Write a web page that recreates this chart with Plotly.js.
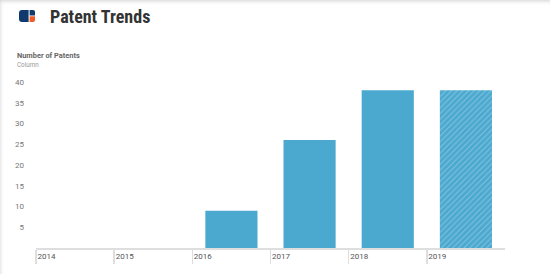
<!DOCTYPE html>
<html>
<head>
<meta charset="utf-8">
<script src="https://cdn.plot.ly/plotly-3.0.1.min.js"></script>
<style>
  html, body { margin: 0; padding: 0; background: #fff; }
  #wrap { position: relative; width: 550px; height: 274px; background: #fff;
          box-shadow: inset 2px 3px 4px -2px rgba(0,0,0,0.18); overflow: hidden; }
  #chart { position: absolute; left: 0; top: 0; width: 550px; height: 274px; }
  #logo { position: absolute; left: 19px; top: 10px; width: 16px; height: 12px; z-index: 5; }
</style>
</head>
<body>
<div id="wrap">
  <div id="chart"></div>
  <svg id="logo" viewBox="0 0 16 12" xmlns="http://www.w3.org/2000/svg">
    <path d="M3 0 H9.6 V12 H3 A3 3 0 0 1 0 9 V3 A3 3 0 0 1 3 0 Z" fill="#0f3a6b"/>
    <path d="M10.6 0 H14 A2 2 0 0 1 16 2 V5.4 H10.6 Z" fill="#0f3a6b"/>
    <path d="M10.6 6.3 H16 V10 A2 2 0 0 1 14 12 H10.6 Z" fill="#f05a28"/>
  </svg>
</div>
<script>
const years = [2014, 2015, 2016, 2017, 2018, 2019];
const patents = [0, 0, 9, 26, 38, 38];
const projected = [false, false, false, false, false, true];
const yTicks = [5, 10, 15, 20, 25, 30, 35, 40];
const titleText = 'Patent Trends';
const yTitle = 'Number of Patents';
const ySubtitle = 'Column';

const barColor = '#4ba9cf';

const trace = {
  type: 'bar',
  x: years,
  y: patents,
  width: 0.667,
  marker: {
    color: barColor,
    line: { width: 0 },
    pattern: {
      shape: projected.map(p => p ? '/' : ''),
      fillmode: 'overlay',
      fgcolor: 'rgba(255,255,255,0.6)',
      size: 4,
      solidity: 0.25
    }
  },
  hoverinfo: 'skip'
};

const layout = {
  width: 550,
  height: 274,
  margin: { l: 36, r: 45, t: 82, b: 26, pad: 0 },
  paper_bgcolor: 'rgba(0,0,0,0)',
  plot_bgcolor: 'rgba(0,0,0,0)',
  showlegend: false,
  font: { family: 'Roboto, sans-serif', color: '#555', size: 8 },
  title: {
    text: titleText,
    font: { family: '"Liberation Sans Narrow", "Roboto Condensed", Roboto, sans-serif', size: 18, color: '#333', weight: 700 },
    x: 50 / 550, xref: 'container', xanchor: 'left',
    y: 1 - 16.5 / 274, yref: 'container', yanchor: 'middle'
  },
  xaxis: {
    type: 'linear',
    range: [years[0] - 0.5, years[years.length - 1] + 0.5],
    tickmode: 'array',
    tickvals: years.map(y => y - 0.5),
    ticktext: years.map(String),
    ticks: 'outside',
    ticklen: 14,
    tickwidth: 1.5,
    tickcolor: '#dedede',
    ticklabelposition: 'outside right',
    ticklabelstandoff: 3.5,
    tickfont: { family: 'Roboto, sans-serif', size: 8, color: '#555' },
    showline: true,
    linecolor: '#dedede',
    linewidth: 1.5,
    showgrid: false,
    zeroline: false,
    fixedrange: true
  },
  yaxis: {
    range: [0, 40],
    tickmode: 'array',
    tickvals: yTicks,
    ticktext: yTicks.map(String),
    ticks: '',
    ticklabelstandoff: 11,
    ticklabelshift: 5.5,
    tickfont: { family: 'Roboto, sans-serif', size: 8, color: '#777' },
    showline: false,
    showgrid: false,
    zeroline: false,
    fixedrange: true
  },
  annotations: [
    {
      text: '<b>' + yTitle + '</b>',
      xref: 'paper', yref: 'paper', x: 0, y: 1,
      xshift: -21, yshift: 27, xanchor: 'left', yanchor: 'middle',
      showarrow: false,
      font: { family: 'Roboto, sans-serif', size: 7.4, color: '#666' }
    },
    {
      text: ySubtitle,
      xref: 'paper', yref: 'paper', x: 0, y: 1,
      xshift: -21, yshift: 17.5, xanchor: 'left', yanchor: 'middle',
      showarrow: false,
      font: { family: 'Roboto, sans-serif', size: 6.3, color: '#999' }
    }
  ]
};

Plotly.newPlot('chart', [trace], layout, { staticPlot: true, displayModeBar: false });
</script>
</body>
</html>
